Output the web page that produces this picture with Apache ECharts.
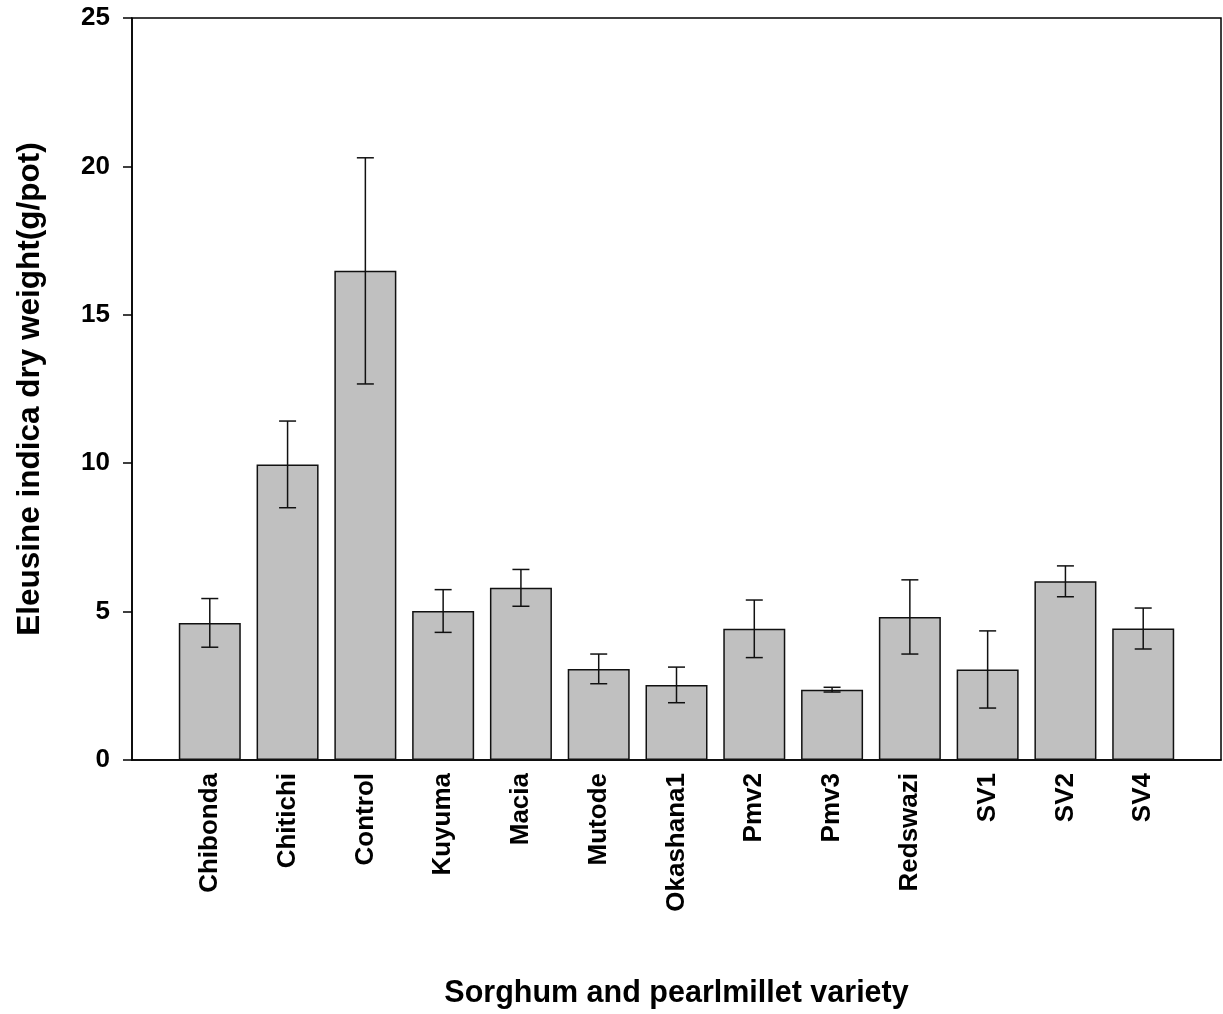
<!DOCTYPE html>
<html>
<head>
<meta charset="utf-8">
<script src="https://cdn.jsdelivr.net/npm/echarts@6/dist/echarts.min.js"></script>
<style>
html,body{margin:0;padding:0;background:#fff;}
#chart{width:1223px;height:1014px;}
</style>
</head>
<body>
<div id="chart"></div>
<script>
var categories = ['Chibonda','Chitichi','Control','Kuyuma','Macia','Mutode','Okashana1','Pmv2','Pmv3','Redswazi','SV1','SV2','SV4'];
var means = [4.62, 9.96, 16.48, 5.02, 5.80, 3.07, 2.53, 4.42, 2.37, 4.82, 3.05, 6.02, 4.43];
var errors = [0.82, 1.46, 3.81, 0.72, 0.62, 0.50, 0.60, 0.97, 0.08, 1.25, 1.30, 0.52, 0.69];
var yTicks = [0, 5, 10, 15, 20, 25];

var barData = means.map(function(v, i){ return [i, v]; });
var errData = means.map(function(v, i){ return [i, v - errors[i], v + errors[i]]; });

var chart = echarts.init(document.getElementById('chart'));
var font = 'Liberation Sans, Arial, sans-serif';
chart.setOption({
  animation: false,
  backgroundColor: '#fff',
  grid: {left: 132, right: 2, top: 18, bottom: 254, show: true, borderColor: '#000', borderWidth: 1.5, backgroundColor: 'transparent'},
  xAxis: {
    type: 'value', min: -1, max: 13, interval: 1,
    name: 'Sorghum and pearlmillet variety',
    nameLocation: 'middle', nameGap: 218,
    nameTextStyle: {fontFamily: font, fontWeight: 'bold', fontSize: 30.5, color: '#000'},
    splitLine: {show: false},
    axisLine: {show: true, onZero: false, lineStyle: {color: '#000', width: 1.5}},
    axisTick: {show: false},
    axisLabel: {
      rotate: 90, margin: 13, fontFamily: font, fontWeight: 'bold', fontSize: 26, color: '#000',
      showMinLabel: false, showMaxLabel: false,
      formatter: function(v){ return (v >= 0 && v < categories.length && v === Math.round(v)) ? categories[v] : ''; }
    }
  },
  yAxis: {
    type: 'value', min: yTicks[0], max: yTicks[yTicks.length-1], interval: 5,
    name: 'Eleusine indica dry weight(g/pot)',
    nameLocation: 'middle', nameGap: 86,
    nameTextStyle: {fontFamily: font, fontWeight: 'bold', fontSize: 31.5, color: '#000'},
    splitLine: {show: false},
    axisLine: {show: true, onZero: false, lineStyle: {color: '#000', width: 1.5}},
    axisTick: {show: true, inside: false, length: 9, lineStyle: {color: '#000', width: 1.5}},
    axisLabel: {margin: 22, fontFamily: font, fontWeight: 'bold', fontSize: 26, color: '#000'}
  },
  series: [
    {
      type: 'bar', data: barData, barWidth: 62,
      itemStyle: {color: '#c0c0c0', borderColor: '#111', borderWidth: 1.5}
    },
    {
      type: 'custom', data: errData,
      renderItem: function(params, api){
        var x = api.value(0);
        var lo = api.coord([x, api.value(1)]);
        var hi = api.coord([x, api.value(2)]);
        var hw = 8.5;
        var st = {stroke: '#111', lineWidth: 1.5, fill: null};
        return {type: 'group', children: [
          {type: 'line', shape: {x1: lo[0], y1: lo[1], x2: hi[0], y2: hi[1]}, style: st},
          {type: 'line', shape: {x1: lo[0]-hw, y1: lo[1], x2: lo[0]+hw, y2: lo[1]}, style: st},
          {type: 'line', shape: {x1: hi[0]-hw, y1: hi[1], x2: hi[0]+hw, y2: hi[1]}, style: st}
        ]};
      },
      z: 10
    }
  ]
});
</script>
</body>
</html>
